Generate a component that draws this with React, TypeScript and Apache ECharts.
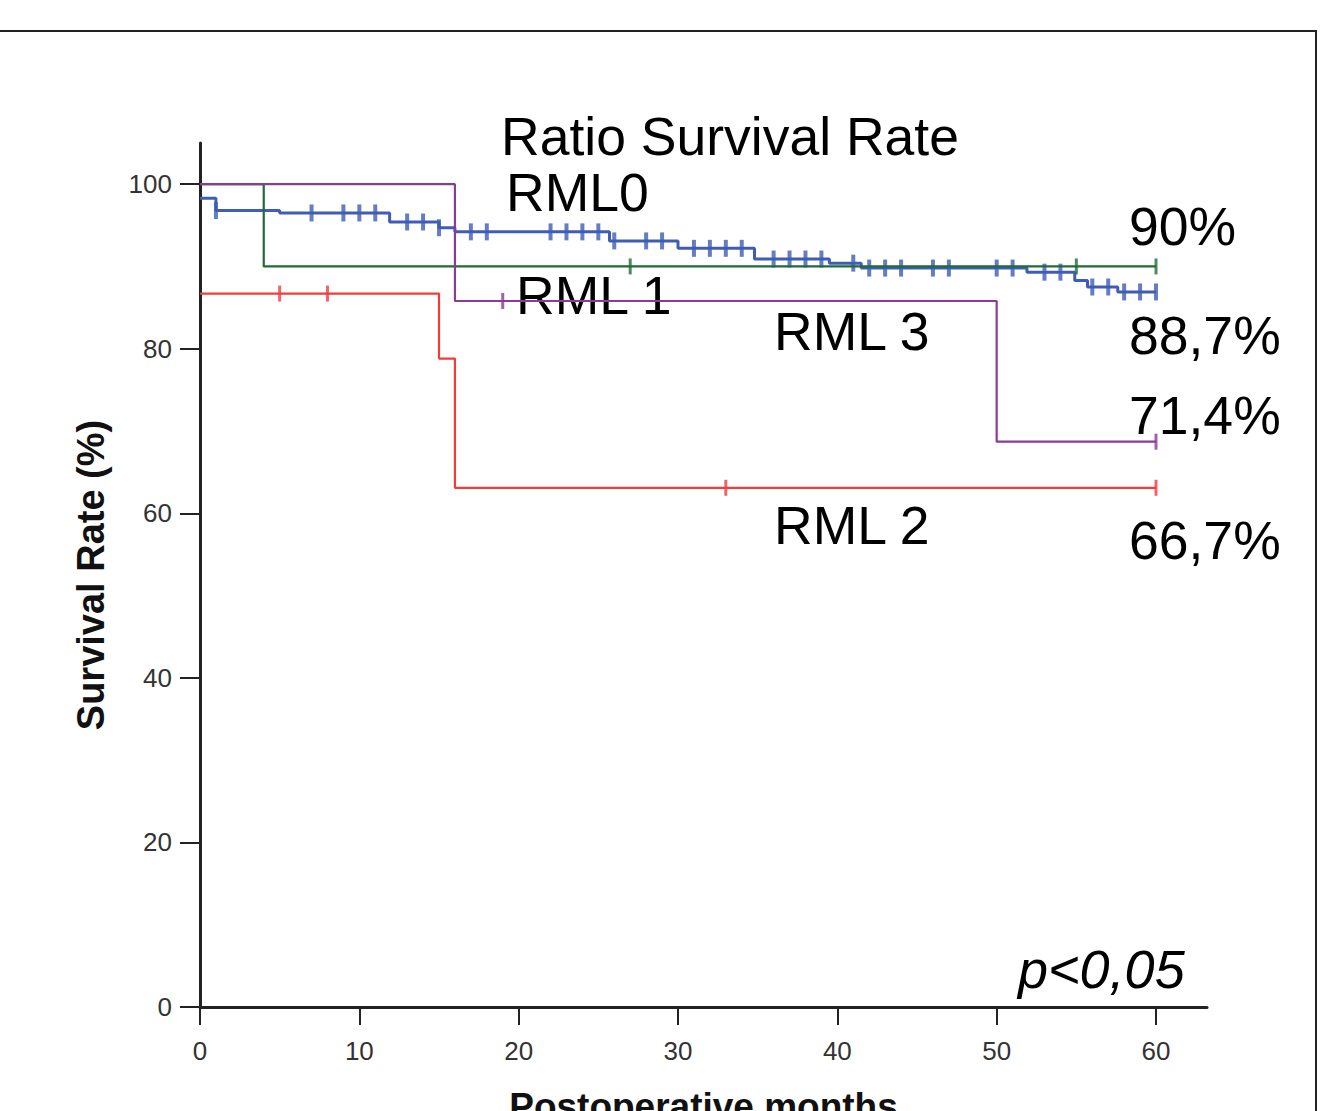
import React, { useEffect, useRef } from "react";
import * as echarts from "echarts";

const xTicks = [0, 10, 20, 30, 40, 50, 60];
const yTicks = [0, 20, 40, 60, 80, 100];

// RML0 (blue)
const rml0Times = [0, 1, 5, 11.9, 15, 16, 25.7, 30, 34.8, 39.5, 41.5, 51.9, 54.9, 55.7, 57.6, 60];
const rml0Values = [98.3, 96.8, 96.5, 95.4, 94.7, 94.2, 93.1, 92.2, 90.9, 90.4, 89.8, 89.3, 88.3, 87.5, 86.9, 86.9];
const rml0Censored = [1, 7, 9, 10, 11, 13, 14, 15, 17, 18, 22, 23, 24, 25, 26, 28, 29, 31, 32, 33, 34, 36, 37, 38, 39, 41, 42, 43, 44, 46, 47, 50, 51, 53, 54, 56, 57, 58, 59, 60];

// RML1 (green)
const rml1Times = [0, 4, 60];
const rml1Values = [100, 90, 90];
const rml1Censored = [27, 55, 60];

// RML3 (purple)
const rml3Times = [0, 16, 50, 60];
const rml3Values = [100, 85.8, 68.7, 68.7];
const rml3Censored = [19, 60];

// RML2 (red)
const rml2Times = [0, 15, 16, 60];
const rml2Values = [86.7, 78.8, 63.1, 63.1];
const rml2Censored = [5, 8, 33, 60];

const annotations = ["Ratio Survival Rate", "RML0", "90%", "RML 1", "RML 3", "88,7%", "71,4%", "RML 2", "66,7%"];

const FONT = '"Liberation Sans", Arial, sans-serif';

function valueAt(times: number[], values: number[], t: number) {
  let v = values[0];
  for (let i = 0; i < times.length; i++) {
    if (times[i] <= t) v = values[i];
  }
  return v;
}

function stepSeries(name: string, times: number[], values: number[], color: string, width: number, z: number) {
  return {
    name,
    type: "line",
    step: "end",
    showSymbol: false,
    z,
    data: times.map((t, i) => [t, values[i]]),
    lineStyle: { color, width },
    silent: true,
  };
}

function censorSeries(name: string, times: number[], values: number[], cens: number[], color: string, size: number[], z: number) {
  return {
    name: name + " censored",
    type: "scatter",
    symbol: "rect",
    symbolSize: size,
    z,
    data: cens.map((t) => [t, valueAt(times, values, t)]),
    itemStyle: { color },
    silent: true,
  };
}

export default function App() {
  const ref = useRef<HTMLDivElement>(null);
  useEffect(() => {
    if (!ref.current) return;
    const chart = echarts.init(ref.current, undefined, { renderer: "svg" });
    const blue = "#3f5db5";
    const green = "#1f6b34";
    const purple = "#8a3b94";
    const red = "#f23c3c";
    const textPos = [
      [501, 136],
      [506, 192],
      [1129, 226],
      [516, 295],
      [774, 331],
      [1129, 335],
      [1129, 415],
      [774, 525],
      [1129, 540],
    ];
    const option: any = {
      animation: false,
      backgroundColor: "#ffffff",
      grid: { left: 200, right: 117, top: 143, bottom: 104, outerBoundsMode: "none", containLabel: false },
      xAxis: {
        type: "value",
        min: 0,
        max: 63.2,
        name: "Postoperative months",
        nameLocation: "middle",
        nameGap: 81,
        nameTextStyle: { fontSize: 37, fontWeight: "bold", color: "#111", fontFamily: FONT },
        axisLine: { onZero: false, lineStyle: { color: "#222", width: 3 } },
        axisTick: { show: true, customValues: xTicks, length: 18, lineStyle: { color: "#222", width: 2 } },
        axisLabel: { customValues: xTicks, margin: 31, fontSize: 26, color: "#333", fontFamily: FONT },
        splitLine: { show: false },
      },
      yAxis: {
        type: "value",
        min: 0,
        max: 105,
        name: "Survival Rate (%)",
        nameLocation: "middle",
        nameGap: 90,
        nameRotate: 90,
        nameTextStyle: { fontSize: 38, fontWeight: "bold", color: "#111", fontFamily: FONT },
        axisLine: { show: true, onZero: false, lineStyle: { color: "#222", width: 3 } },
        axisTick: { show: true, customValues: yTicks, length: 20, lineStyle: { color: "#222", width: 2 } },
        axisLabel: { customValues: yTicks, margin: 28, fontSize: 26, color: "#333", fontFamily: FONT },
        splitLine: { show: false },
      },
      series: [
        stepSeries("RML0", rml0Times, rml0Values, blue, 3, 2),
        censorSeries("RML0", rml0Times, rml0Values, rml0Censored, blue, [4, 17], 2),
        stepSeries("RML1", rml1Times, rml1Values, green, 2.2, 3),
        censorSeries("RML1", rml1Times, rml1Values, rml1Censored, green, [3, 16], 3),
        stepSeries("RML2", rml2Times, rml2Values, red, 2.2, 4),
        censorSeries("RML2", rml2Times, rml2Values, rml2Censored, red, [3, 16], 4),
        stepSeries("RML3", rml3Times, rml3Values, purple, 2.2, 5),
        censorSeries("RML3", rml3Times, rml3Values, rml3Censored, purple, [3, 16], 5),
      ],
      graphic: [
        {
          type: "polyline",
          shape: { points: [[0, 31], [1316, 31], [1316, 1111]] },
          style: { stroke: "#222", lineWidth: 2, fill: null },
          silent: true,
        },
        ...annotations.map((t, i) => ({
          type: "text",
          x: textPos[i][0],
          y: textPos[i][1],
          silent: true,
          style: {
            text: t,
            fill: "#000",
            fontSize: 53.5,
            fontFamily: FONT,
            verticalAlign: "middle",
            align: "left",
          },
        })),
        {
          type: "text",
          x: 1018,
          y: 969,
          silent: true,
          style: {
            text: "p<0,05",
            fill: "#000",
            fontSize: 54,
            fontStyle: "italic",
            fontFamily: FONT,
            verticalAlign: "middle",
            align: "left",
          },
        },
      ],
    };
    chart.setOption(option);
    return () => chart.dispose();
  }, []);
  return (
    <div
      ref={ref}
      style={{ position: "fixed", left: 0, top: 0, width: 1324, height: 1111, background: "#fff" }}
    />
  );
}
